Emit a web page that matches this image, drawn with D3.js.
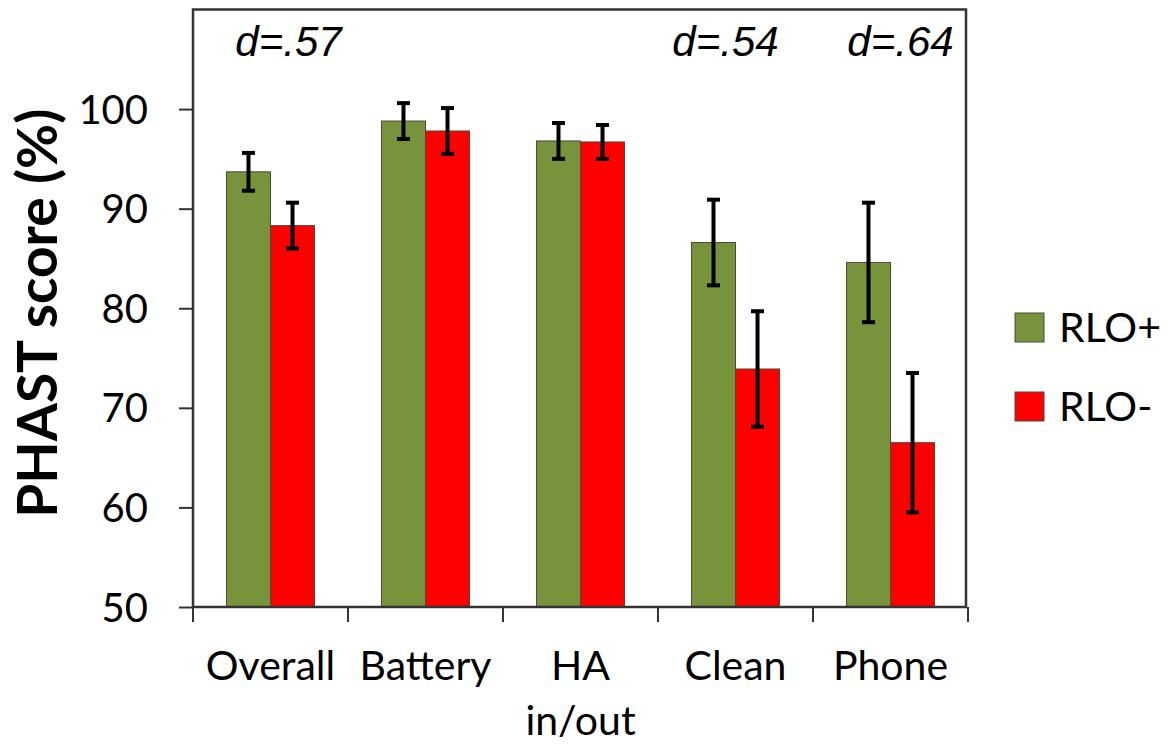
<!DOCTYPE html>
<head>
    <meta charset="utf-8">
    <title>PHAST score</title>
    <script src="https://d3js.org/d3.v7.min.js"></script>
    <style>
        body { margin: 0; background: #fff; }
        svg { display: block; }
    </style>
</head>
<body>
<div id="container"></div>

<script>
    //---------------------------DATA-------------------------------//
    const categories = ["Overall", "Battery", "HA\nin/out", "Clean", "Phone"];
    const series = ["RLO+", "RLO-"];
    const rloPlus = [93.7, 98.8, 96.8, 86.6, 84.6];
    const rloPlusErr = [1.9, 1.8, 1.8, 4.3, 6.0];
    const rloMinus = [88.3, 97.8, 96.7, 73.9, 66.5];
    const rloMinusErr = [2.3, 2.3, 1.7, 5.8, 7.0];
    const yTicks = [50, 60, 70, 80, 90, 100];
    const effects = [".57", null, null, ".54", ".64"];

    const colors = {"RLO+": "#77933c", "RLO-": "#ff0000"};

    //---------------------------SVG--------------------------------//
    const width = 1173;
    const height = 751;
    const plot = {left: 193, right: 966, top: 9.5, bottom: 607};

    const svg = d3.select("#container").append("svg")
        .attr("width", width)
        .attr("height", height);

    //--------------------------SCALES------------------------------//
    const x0 = d3.scaleBand()
        .domain(categories)
        .range([plot.left, plot.left + 155 * categories.length])
        .padding(0);

    const x1 = d3.scaleBand()
        .domain(series)
        .range([x0.bandwidth() * 0.216, x0.bandwidth() * 0.784]);

    const y = d3.scaleLinear()
        .domain([50, 110])
        .range([plot.bottom, plot.top]);

    const rows = categories.map((c, i) => ({
        cat: c,
        vals: [
            {s: "RLO+", v: rloPlus[i], e: rloPlusErr[i]},
            {s: "RLO-", v: rloMinus[i], e: rloMinusErr[i]}
        ]
    }));

    //---------------------------BARS-------------------------------//
    const groups = svg.selectAll("g.group")
        .data(rows)
        .enter().append("g")
        .attr("class", "group")
        .attr("transform", d => "translate(" + x0(d.cat) + ",0)");

    groups.selectAll("rect")
        .data(d => d.vals)
        .enter().append("rect")
        .attr("x", d => x1(d.s))
        .attr("y", d => y(d.v))
        .attr("width", x1.bandwidth())
        .attr("height", d => y(50) - y(d.v))
        .attr("fill", d => colors[d.s])
        .attr("stroke", "#4a4a3a")
        .attr("stroke-width", 1);

    // error bars
    const err = groups.selectAll("g.err")
        .data(d => d.vals)
        .enter().append("g")
        .attr("class", "err")
        .attr("stroke", "#000")
        .attr("stroke-width", 4);

    err.append("line")
        .attr("x1", d => x1(d.s) + x1.bandwidth() / 2)
        .attr("x2", d => x1(d.s) + x1.bandwidth() / 2)
        .attr("y1", d => y(d.v + d.e))
        .attr("y2", d => y(d.v - d.e));

    [1, -1].forEach(sign => {
        err.append("line")
            .attr("x1", d => x1(d.s) + x1.bandwidth() / 2 - 6.5)
            .attr("x2", d => x1(d.s) + x1.bandwidth() / 2 + 6.5)
            .attr("y1", d => y(d.v + sign * d.e))
            .attr("y2", d => y(d.v + sign * d.e));
    });

    //---------------------------AXES-------------------------------//
    const yAxis = d3.axisLeft(y)
        .tickValues(yTicks)
        .tickSize(14)
        .tickPadding(31)
        .tickFormat(d3.format("d"));

    const gy = svg.append("g")
        .attr("transform", "translate(" + plot.left + ",0)")
        .call(yAxis);
    gy.select(".domain").remove();
    gy.selectAll(".tick line").attr("stroke", "#333").attr("stroke-width", 2);
    gy.selectAll(".tick text")
        .attr("font-family", "Lato, 'Open Sans', sans-serif")
        .attr("font-size", 40)
        .attr("fill", "#000")
        .attr("dy", "0.35em");

    // category boundary ticks
    const bounds = categories.map(c => x0(c)).concat([x0.range()[1]]);
    svg.append("g").selectAll("line")
        .data(bounds)
        .enter().append("line")
        .attr("x1", d => d)
        .attr("x2", d => d)
        .attr("y1", plot.bottom)
        .attr("y2", plot.bottom + 15)
        .attr("stroke", "#333")
        .attr("stroke-width", 2);

    // category labels
    const xl = svg.append("g").selectAll("text")
        .data(categories)
        .enter().append("text")
        .attr("x", d => x0(d) + x0.bandwidth() / 2)
        .attr("y", 680)
        .attr("text-anchor", "middle")
        .attr("font-family", "Lato, 'Open Sans', sans-serif")
        .attr("font-size", 41)
        .attr("fill", "#000");
    xl.each(function(d) {
        const parts = d.split("\n");
        d3.select(this).selectAll("tspan")
            .data(parts)
            .enter().append("tspan")
            .attr("x", x0(d) + x0.bandwidth() / 2)
            .attr("dy", (p, i) => i === 0 ? 0 : 55)
            .text(p => p);
    });

    // frame
    svg.append("rect")
        .attr("x", plot.left)
        .attr("y", plot.top)
        .attr("width", plot.right - plot.left)
        .attr("height", plot.bottom - plot.top)
        .attr("fill", "none")
        .attr("stroke", "#333")
        .attr("stroke-width", 2.5);

    // y label
    svg.append("text")
        .attr("transform", "translate(57," + ((plot.top + plot.bottom) / 2 + 5) + ") rotate(-90)")
        .attr("text-anchor", "middle")
        .attr("font-family", "Lato, 'Open Sans', sans-serif")
        .attr("font-weight", "bold")
        .attr("font-size", 55)
        .attr("fill", "#000")
        .text("PHAST score (%)");

    //------------------------EFFECT SIZES--------------------------//
    const effOffset = [18, 0, 0, -10, 10];
    categories.forEach((c, i) => {
        if (!effects[i]) return;
        const t = svg.append("text")
            .attr("x", x0(c) + x0.bandwidth() / 2 + effOffset[i])
            .attr("y", 56)
            .attr("text-anchor", "middle")
            .attr("font-family", "'Liberation Sans', Arial, sans-serif")
            .attr("font-style", "italic")
            .attr("font-size", 42)
            .attr("fill", "#000");
        t.append("tspan").text("d");
        t.append("tspan").text("=" + effects[i]);
    });

    //--------------------------LEGEND------------------------------//
    const legend = svg.append("g").selectAll("g")
        .data(series)
        .enter().append("g")
        .attr("transform", (d, i) => "translate(1015," + (313 + i * 79) + ")");

    legend.append("rect")
        .attr("width", 29)
        .attr("height", 29)
        .attr("fill", d => colors[d])
        .attr("stroke", "#4a4a3a")
        .attr("stroke-width", 1);

    legend.append("text")
        .attr("x", 44)
        .attr("y", 29)
        .attr("font-family", "Lato, 'Open Sans', sans-serif")
        .attr("font-size", 41)
        .attr("fill", "#000")
        .text(d => d);
</script>
</body>
